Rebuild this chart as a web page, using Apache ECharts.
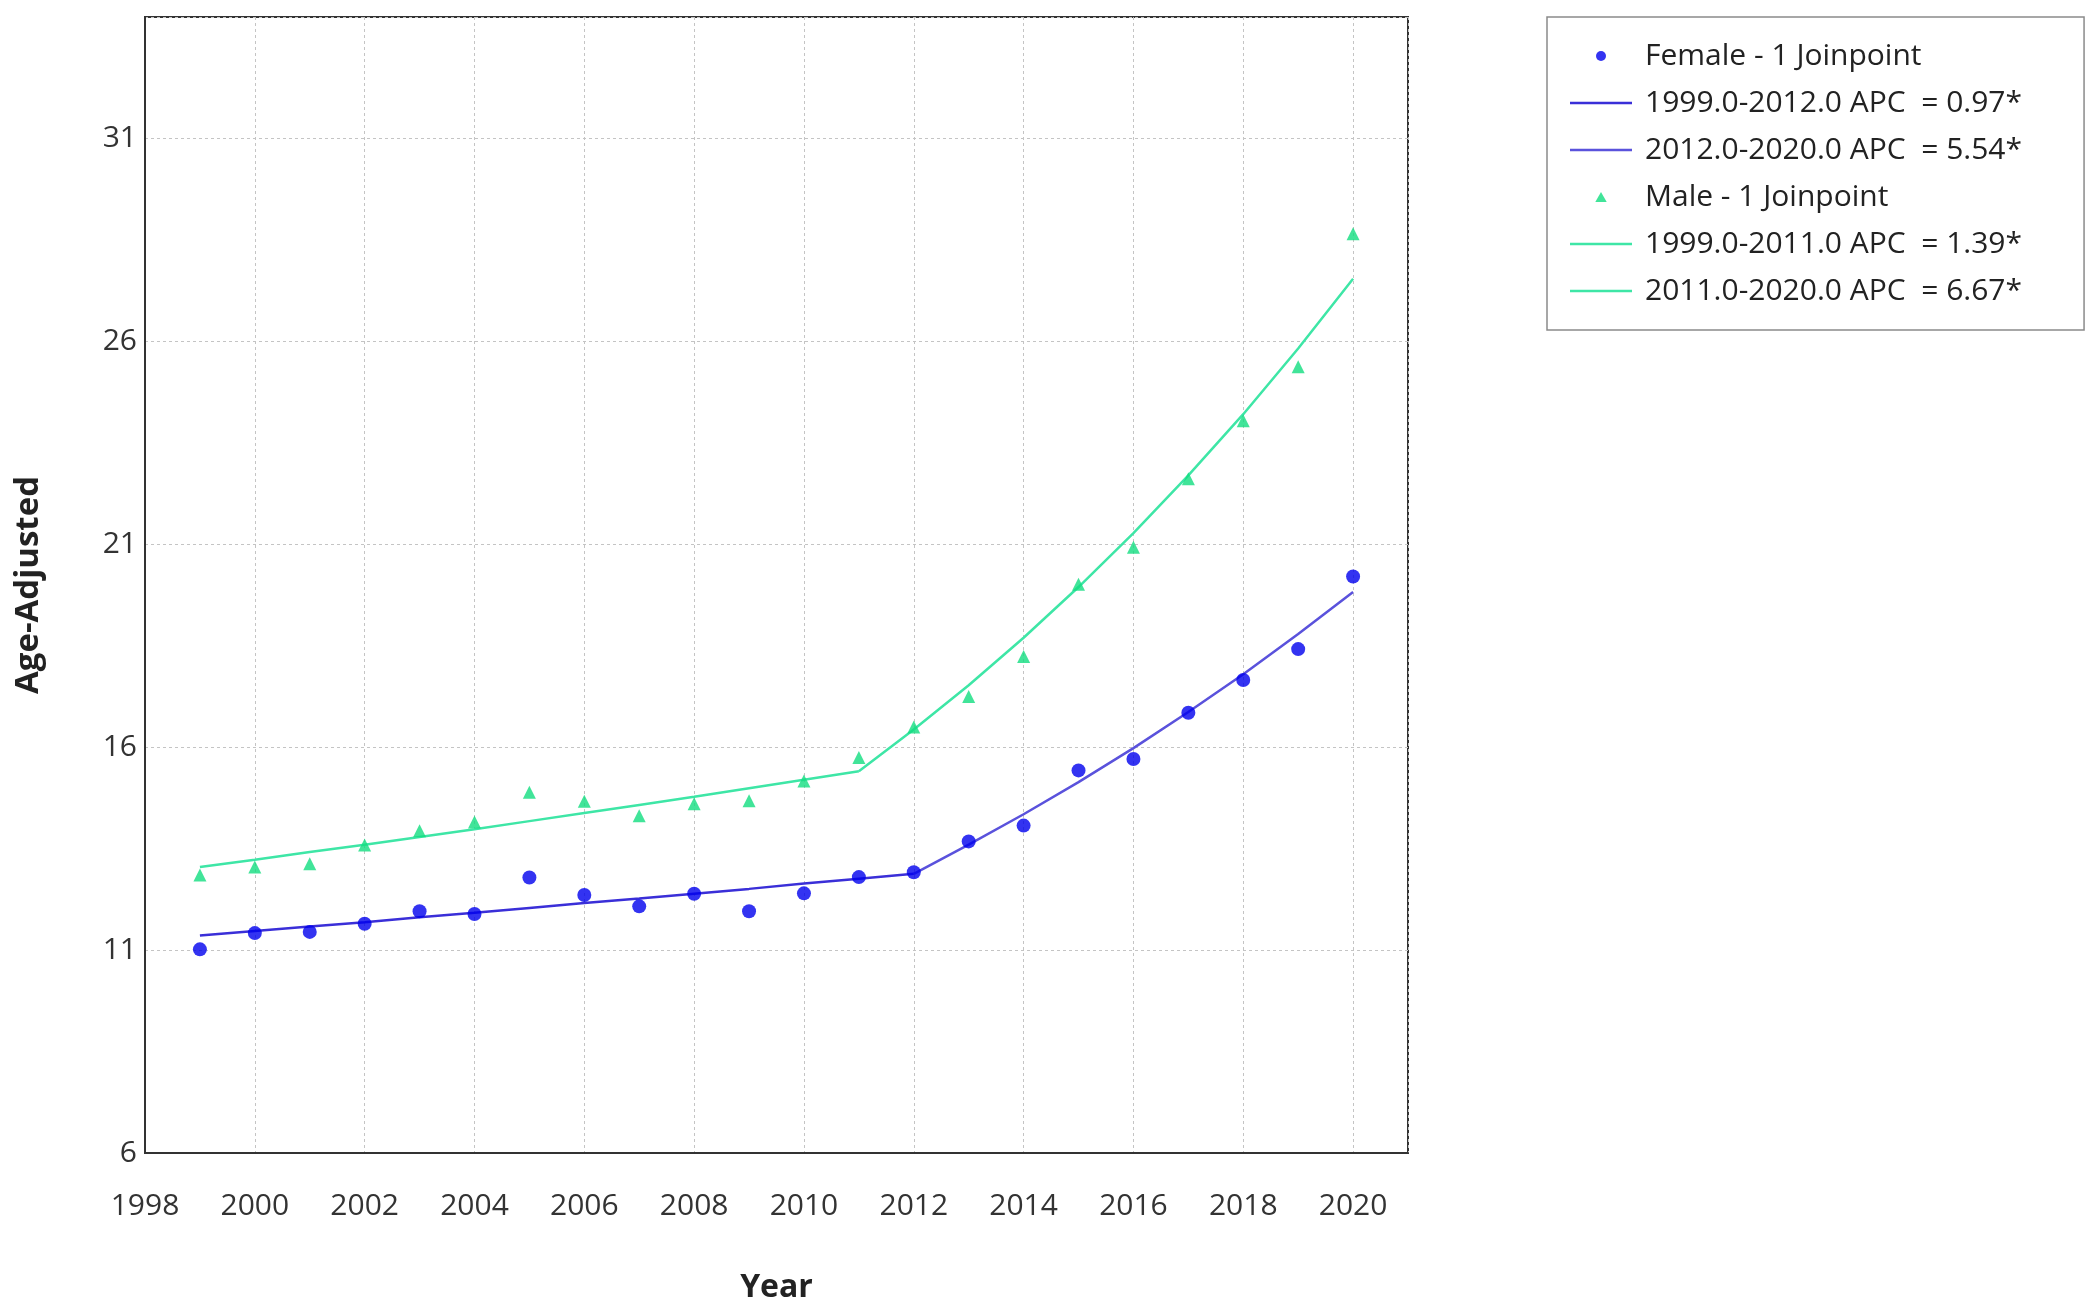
<!DOCTYPE html>
<html>
<head>
<meta charset="utf-8">
<script src="https://cdn.jsdelivr.net/npm/echarts@6/dist/echarts.min.js"></script>
<style>
  html, body { margin: 0; padding: 0; background: #fff; }
  #chart { width: 2100px; height: 1312px; }
</style>
</head>
<body>
<div id="chart"></div>
<script>
var years = [1999, 2000, 2001, 2002, 2003, 2004, 2005, 2006, 2007, 2008, 2009, 2010,
             2011, 2012, 2013, 2014, 2015, 2016, 2017, 2018, 2019, 2020];

// observed age-adjusted rates
var femaleObs = [11.02, 11.42, 11.45, 11.65, 11.96, 11.89, 12.79, 12.36, 12.08, 12.39, 11.96, 12.40,
                 12.80, 12.92, 13.68, 14.07, 15.43, 15.71, 16.85, 17.66, 18.42, 20.21];
var maleObs = [12.85, 13.05, 13.13, 13.59, 13.94, 14.16, 14.89, 14.67, 14.31, 14.61, 14.68, 15.17,
               15.75, 16.50, 17.25, 18.24, 20.02, 20.93, 22.62, 24.05, 25.38, 28.66];

// joinpoint fitted values
var femaleFit = [11.36, 11.47, 11.58, 11.69, 11.81, 11.92, 12.04, 12.16, 12.27, 12.39, 12.51, 12.64,
                 12.76, 12.88, 13.60, 14.35, 15.14, 15.98, 16.87, 17.80, 18.79, 19.83];
var maleFit = [13.05, 13.23, 13.42, 13.60, 13.79, 13.98, 14.18, 14.38, 14.58, 14.78, 14.99, 15.20,
               15.41, 16.44, 17.53, 18.70, 19.95, 21.28, 22.70, 24.21, 25.83, 27.55];

var femaleJoin = 2012;
var maleJoin = 2011;

var legendNames = ['Female - 1 Joinpoint', '1999.0-2012.0 APC  = 0.97*', '2012.0-2020.0 APC  = 5.54*',
                   'Male - 1 Joinpoint', '1999.0-2011.0 APC  = 1.39*', '2011.0-2020.0 APC  = 6.67*'];

function pairs(vals, from, to) {
    var out = [];
    for (var i = 0; i < years.length; i++) {
        if (years[i] >= from && years[i] <= to) out.push([years[i], vals[i]]);
    }
    return out;
}

var chartDom = document.getElementById('chart');
var myChart = echarts.init(chartDom);
var font = 'Open Sans';
var lineIcon = 'path://M0,0 L62,0 L62,2.5 L0,2.5 Z';

var option = {
    animation: false,
    textStyle: { fontFamily: font },
    legend: {
        orient: 'vertical',
        left: 1547,
        top: 17,
        padding: [24, 62, 24, 23],
        itemWidth: 62,
        itemHeight: 10,
        itemGap: 17,
        backgroundColor: '#fff',
        borderColor: '#8a8a8a',
        borderWidth: 1.5,
        textStyle: { fontSize: 30, color: '#222', fontFamily: font, padding: [0, 0, 0, 8] },
        data: [
            { name: legendNames[0], icon: 'circle' },
            { name: legendNames[1], icon: lineIcon },
            { name: legendNames[2], icon: lineIcon },
            { name: legendNames[3], icon: 'path://M4,0 L8,7 L0,7 Z' },
            { name: legendNames[4], icon: lineIcon },
            { name: legendNames[5], icon: lineIcon }
        ]
    },
    grid: {
        left: 145,
        top: 17,
        right: 692,
        bottom: 159,
        show: true,
        borderColor: '#333',
        borderWidth: 2
    },
    xAxis: {
        type: 'value',
        min: 1998,
        max: 2021,
        interval: 2,
        name: 'Year',
        nameLocation: 'middle',
        nameGap: 119,
        nameTextStyle: { fontSize: 32, fontWeight: 'bold', color: '#222', fontFamily: font },
        axisLine: { show: true, lineStyle: { color: '#333', width: 2 } },
        axisTick: { show: false },
        axisLabel: {
            fontSize: 30, color: '#333', margin: 38, showMaxLabel: false,
            formatter: function (v) { return String(v); }
        },
        splitLine: { show: true, lineStyle: { color: '#c4c4c4', type: [3, 3], width: 1 } }
    },
    yAxis: {
        type: 'value',
        min: 6,
        max: 34,
        interval: 5,
        name: 'Age-Adjusted',
        nameLocation: 'middle',
        nameGap: 100,
        nameTextStyle: { fontSize: 33, fontWeight: 'bold', color: '#222', fontFamily: font },
        axisLine: { show: true, lineStyle: { color: '#333', width: 2 } },
        axisTick: { show: false },
        axisLabel: { fontSize: 30, color: '#333', margin: 8, showMaxLabel: false },
        splitLine: { show: true, lineStyle: { color: '#c4c4c4', type: [3, 3], width: 1 } }
    },
    series: [
        {
            name: legendNames[0],
            type: 'scatter',
            symbol: 'circle',
            symbolSize: 14,
            itemStyle: { color: '#0000ee' },
            z: 3,
            data: pairs(femaleObs, 1999, 2020)
        },
        {
            name: legendNames[1],
            type: 'line',
            symbol: 'none',
            lineStyle: { color: '#3a2fd8', width: 2.5 },
            itemStyle: { color: '#3a2fd8' },
            data: pairs(femaleFit, 1999, femaleJoin)
        },
        {
            name: legendNames[2],
            type: 'line',
            symbol: 'none',
            lineStyle: { color: '#5a52dc', width: 2.5 },
            itemStyle: { color: '#5a52dc' },
            data: pairs(femaleFit, femaleJoin, 2020)
        },
        {
            name: legendNames[3],
            type: 'scatter',
            symbol: 'triangle',
            symbolSize: 13,
            itemStyle: { color: '#12dd80' },
            z: 3,
            data: pairs(maleObs, 1999, 2020)
        },
        {
            name: legendNames[4],
            type: 'line',
            symbol: 'none',
            lineStyle: { color: '#3ee6a6', width: 2.5 },
            itemStyle: { color: '#3ee6a6' },
            data: pairs(maleFit, 1999, maleJoin)
        },
        {
            name: legendNames[5],
            type: 'line',
            symbol: 'none',
            lineStyle: { color: '#3ee6a6', width: 2.5 },
            itemStyle: { color: '#3ee6a6' },
            data: pairs(maleFit, maleJoin, 2020)
        }
    ]
};

myChart.setOption(option);

window.addEventListener('resize', function () {
    myChart.resize();
});
</script>
</body>
</html>
